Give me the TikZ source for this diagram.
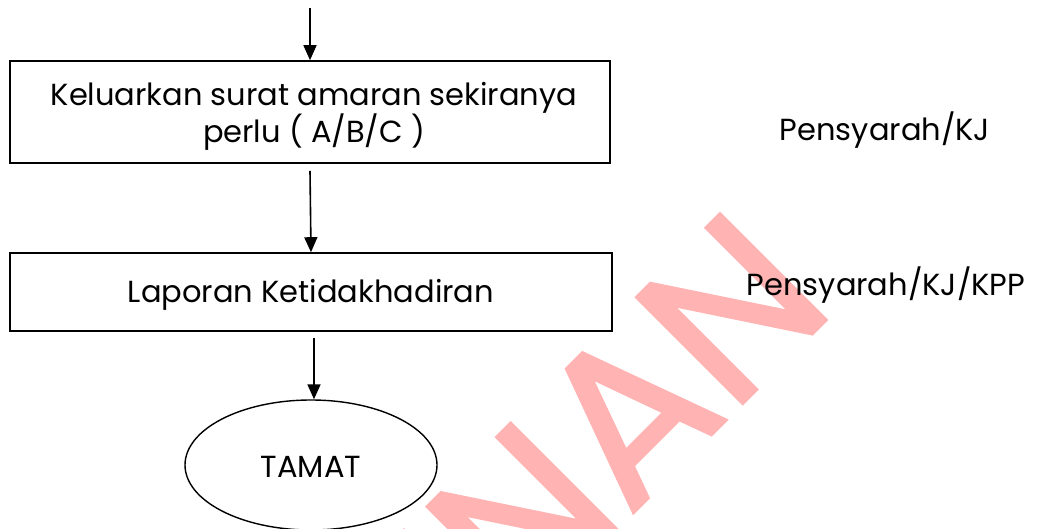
\documentclass[tikz,border=0pt]{standalone}
\usepackage{fontspec}
\setmainfont{Poppins}
\newfontfamily\wmfont[FakeBold=1.5]{Poppins}
\usetikzlibrary{arrows.meta,shapes.geometric}
\definecolor{wm}{HTML}{FFB3B3}
\begin{document}
\begin{tikzpicture}[x=1pt,y=-1pt,
  box/.style={draw,line width=1.6pt,rectangle,align=center,inner sep=0pt},
  endell/.style={draw,line width=1.4pt,ellipse,inner sep=0pt},
  arr/.style={line width=1.6pt,-{Triangle[width=13pt,length=15pt]}},
  txt/.style={font=\fontsize{30.5}{37}\selectfont,align=center,inner sep=0pt},
  lbl/.style={font=\fontsize{30.5}{37}\selectfont,inner sep=0pt}]
\useasboundingbox (0,0) rectangle (1058,529);
% watermark
\node[wm,anchor=base east,rotate=45,inner sep=0pt,font=\wmfont\fontsize{215}{215}\selectfont] (wmark) at (838,308) {SALINAN};
% flow
\coordinate (start) at (310,8);
\node[box,minimum width=600pt,minimum height=102pt] (b1) at (310,112) {};
\node[txt] (b1t) at ([xshift=4pt,yshift=-4.5pt]b1.center)
  {Keluarkan surat amaran sekiranya\\perlu ( A/B/C )};
\node[box,minimum width=602pt,minimum height=78pt] (b2) at (311,292) {};
\node[txt] (b2t) at ([yshift=-3pt]b2.center) {Laporan Ketidakhadiran};
\node[endell,minimum width=252pt,minimum height=130pt] (end) at (311,465) {};
\node[txt] (endt) at ([yshift=-2pt]end.center) {TAMAT};
\node[lbl] (l1) at (885,130) {Pensyarah/KJ};
\node[lbl] (l2) at (886,285) {Pensyarah/KJ/KPP};
\draw[arr] (start) -- (b1.north);
\draw[arr] ([yshift=-7pt]b1.south) -- (b2.north);
\draw[arr] ([xshift=3pt,yshift=-6pt]b2.south) -- ([xshift=3pt]end.north);
\end{tikzpicture}
\end{document}
